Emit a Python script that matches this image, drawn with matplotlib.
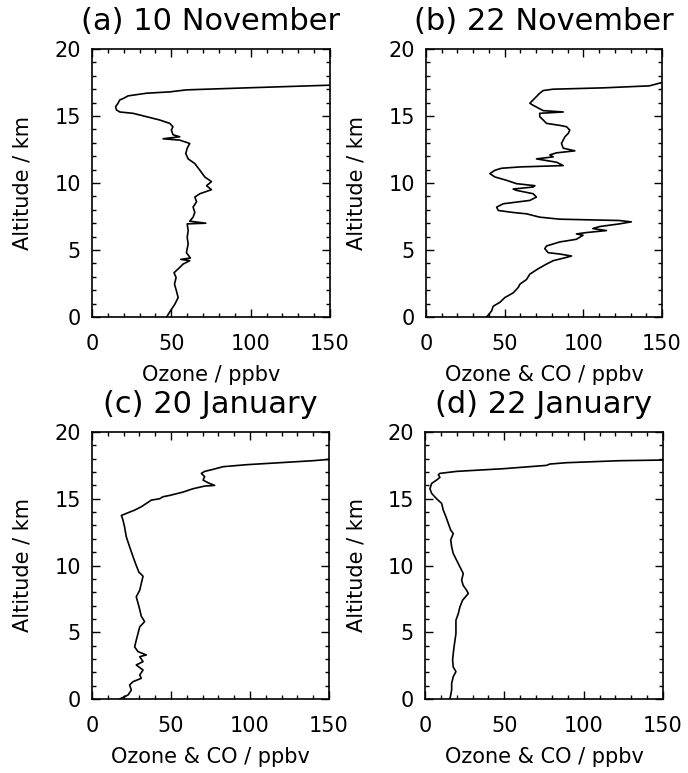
import numpy as np
import matplotlib
matplotlib.use("Agg")
import matplotlib.pyplot as plt
from matplotlib.ticker import MultipleLocator

plt.rcParams['font.family'] = ['DejaVu Sans']

# (a) 10 November - ozone / ppbv vs altitude / km
a_ozone = [47, 49.4, 52.2, 54.3, 53.2, 52, 53, 51.7, 55.3, 57.4, 61.6, 56, 62, 59.5,
           60.6, 60, 60.6, 60, 71.7, 61.6, 63.7, 64.8, 63.7, 65.9, 64.8, 68, 75.3,
           72.2, 75.3, 71.1, 68, 64.8, 60.6, 59.1, 60, 61.6, 55.3, 44.8, 55.3, 51.1,
           50, 51, 49, 42.7, 34.3, 25.9, 17.5, 15.4, 14.9, 16.4, 17.5, 19.6, 22.7,
           34.3, 49, 59.5, 97.4, 150, 160]
a_alt = [0, 0.45, 0.95, 1.45, 1.95, 2.45, 2.95, 3.3, 3.7, 3.95, 4.2, 4.3, 4.4, 4.8,
         5.45, 5.95, 6.45, 6.95, 7.0, 7.15, 7.45, 7.8, 8.2, 8.6, 8.95, 9.2, 9.5,
         9.8, 10.1, 10.45, 10.95, 11.45, 11.8, 12.2, 12.6, 12.95, 13.2, 13.3, 13.45,
         13.6, 13.95, 14.2, 14.45, 14.7, 14.95, 15.2, 15.3, 15.45, 15.7, 15.95,
         16.2, 16.3, 16.5, 16.7, 16.8, 16.95, 17.1, 17.3, 17.35]

# (b) 22 November - ozone & CO / ppbv
b_ozone = [38.5, 41.7, 42.7, 47, 50.1, 55.4, 58.6, 59.7, 63.9, 66, 71.3, 76.6, 80.8,
           89.3, 92.5, 85, 77.6, 75.5, 76.6, 85, 95.6, 99.8, 95.6, 101.9, 114.7, 106,
           110.4, 123, 130.5, 123, 85, 72.3, 63.9, 55.4, 45.9, 44.9, 49.1, 66, 70.2,
           68.1, 63.9, 57.5, 55.4, 68.1, 69.2, 57.5, 51.2, 43.8, 40.6, 43.8, 48,
           59.7, 87.2, 83, 70.2, 80.8, 78.7, 83, 94.6, 87.2, 86.1, 87.2, 88.3, 90.4,
           91.4, 89.3, 85, 76.6, 74.5, 72.3, 72.3, 87.2, 74.5, 71.3, 68.1, 66, 68.1,
           70.2, 72.3, 74.5, 80.8, 112.6, 142, 150, 160]
b_alt = [0, 0.45, 0.8, 1.1, 1.45, 1.8, 2.2, 2.45, 2.8, 3.2, 3.6, 3.95, 4.2, 4.45,
         4.55, 4.7, 4.8, 5.1, 5.3, 5.6, 5.8, 6.1, 6.2, 6.3, 6.45, 6.6, 6.75, 6.95,
         7.1, 7.2, 7.3, 7.45, 7.7, 7.8, 7.95, 8.2, 8.45, 8.7, 8.95, 9.2, 9.3, 9.45,
         9.55, 9.7, 9.8, 9.95, 10.2, 10.45, 10.7, 10.95, 11.1, 11.2, 11.3, 11.55,
         11.8, 11.95, 12.1, 12.25, 12.4, 12.6, 12.95, 13.2, 13.45, 13.7, 13.95,
         14.2, 14.3, 14.45, 14.7, 14.95, 15.2, 15.3, 15.4, 15.6, 15.8, 15.95, 16.2,
         16.45, 16.7, 16.9, 17.0, 17.1, 17.25, 17.5, 17.6]

# (c) 20 January - ozone & CO / ppbv
c_ozone = [17.5, 22.8, 24.9, 23.8, 26, 31.2, 30.2, 32.3, 28, 32.3, 30.2, 34.4, 29.1,
           27, 28, 29.1, 30.2, 33.3, 31.2, 30.2, 29.1, 28, 30.2, 31.2, 32.3, 29.7,
           28, 26, 23.8, 21.7, 20.6, 19.6, 18.6, 21.7, 27, 31.2, 34.4, 37.6, 42.8,
           44.9, 49.2, 57.6, 63.9, 71.3, 77.6, 73.4, 70.3, 71.3, 69.2, 71.3, 76.6,
           82.9, 97.7, 118.8, 139.9, 150, 160]
c_alt = [0, 0.3, 0.67, 1.05, 1.3, 1.55, 1.8, 2.17, 2.55, 2.8, 3.17, 3.3, 3.55, 3.9,
         4.4, 4.9, 5.4, 5.8, 6.2, 6.7, 7.2, 7.65, 8.15, 8.65, 9.2, 9.5, 10.0, 10.65,
         11.4, 12.15, 12.9, 13.4, 13.75, 13.9, 14.15, 14.4, 14.65, 14.9, 15.0,
         15.15, 15.25, 15.5, 15.75, 15.95, 16.0, 16.2, 16.4, 16.65, 16.9, 17.05,
         17.2, 17.4, 17.55, 17.7, 17.85, 17.95, 18.0]

# (d) 22 January - ozone & CO / ppbv
d_ozone = [15.7, 16.8, 16.8, 17.8, 19.5, 17.8, 17.4, 17.8, 18.3, 18.9, 19.5, 19.5,
           19.5, 21, 22, 23.7, 27.3, 26.2, 24.1, 23.1, 24.1, 22, 19.9, 17.8, 16.8,
           16.2, 17.8, 16.2, 14.7, 13.2, 11.5, 10.5, 7.3, 4.2, 3.1, 4.2, 7.3, 9.4,
           8.4, 9.4, 19.9, 49.3, 76.6, 78.7, 89.2, 122.7, 150, 160]
d_alt = [0, 0.67, 1.17, 1.67, 2.05, 2.4, 2.9, 3.4, 3.9, 4.4, 4.9, 5.4, 5.9, 6.4,
         6.9, 7.4, 7.9, 8.15, 8.5, 8.9, 9.4, 9.9, 10.4, 10.9, 11.4, 11.9, 12.4,
         12.65, 13.15, 13.65, 14.15, 14.65, 15.0, 15.4, 15.75, 16.15, 16.4, 16.6,
         16.8, 16.9, 17.05, 17.25, 17.5, 17.6, 17.7, 17.85, 17.9, 17.95]

titles = ['(a) 10 November', '(b) 22 November', '(c) 20 January', '(d) 22 January']
xlabels = ['Ozone / ppbv', 'Ozone & CO / ppbv', 'Ozone & CO / ppbv', 'Ozone & CO / ppbv']
profiles = [(a_ozone, a_alt), (b_ozone, b_alt), (c_ozone, c_alt), (d_ozone, d_alt)]

fig = plt.figure(figsize=(6.88, 7.73), dpi=100)
W, H = 688, 773
# axes boxes in pixels: left, top, right, bottom
boxes = [(92, 49, 330, 317), (426, 49, 662, 317),
         (92, 432, 329, 699), (425, 432, 663, 699)]

for i, (l, t, r, b) in enumerate(boxes):
    ax = fig.add_axes([l / W, 1 - b / H, (r - l) / W, (b - t) / H])
    x, y = profiles[i]
    ax.plot(x, y, color='black', lw=1.2)
    ax.set_xlim(0, 150)
    ax.set_ylim(0, 20)
    ax.xaxis.set_major_locator(MultipleLocator(50))
    ax.xaxis.set_minor_locator(MultipleLocator(10))
    ax.yaxis.set_major_locator(MultipleLocator(5))
    ax.yaxis.set_minor_locator(MultipleLocator(1))
    ax.tick_params(which='both', direction='in', top=True, right=True,
                   labelsize=15, width=1.0)
    ax.tick_params(which='major', length=6)
    ax.tick_params(axis='x', which='major', pad=12)
    ax.tick_params(axis='y', which='major', pad=8)
    ax.tick_params(which='minor', length=3)
    for s in ax.spines.values():
        s.set_linewidth(1.2)
    ax.set_title(titles[i], fontsize=22, pad=14)
    ax.set_xlabel(xlabels[i], fontsize=15, labelpad=8)
    ax.set_ylabel('Altitude / km', fontsize=15)
    ax.yaxis.set_label_coords(-59 / (r - l), 0.5)

fig.savefig('out.png', dpi=100)
